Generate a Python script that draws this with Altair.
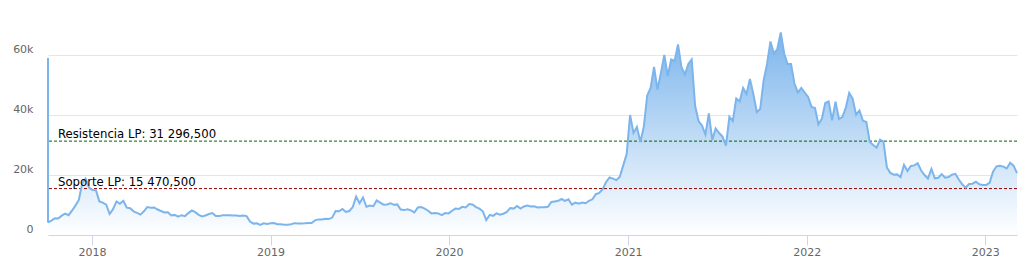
import altair as alt
import pandas as pd

# ---- data (weekly BTC price) ----
start_date = "2017-10-03"
prices_2017 = [4200, 4800, 5600, 5500, 6450, 7150, 6600, 8100, 9800, 11700, 17200, 18800, 15800]
prices_2018 = [15000, 14900, 11200, 10800, 10100, 7000, 8600, 11200, 10400, 11400, 9100, 8900, 7900,
               7400, 6800, 7900, 9300, 9100, 9200, 8500, 8000, 7500, 7600, 6500, 6700, 6100,
               6600, 6300, 7300, 8200, 7600, 6700, 6200, 6500, 7000, 7300, 6300, 6300, 6600,
               6600, 6600, 6500, 6500, 6300, 6500, 6300, 4500, 3800, 3900, 3400, 3900, 3700]
prices_2019 = [3900, 4000, 3600, 3600, 3450, 3400, 3600, 3950, 3850, 3850, 3900, 4000, 4000,
               4900, 5200, 5200, 5400, 5300, 5800, 8000, 7900, 8700, 7700, 8000, 9300, 12800,
               10600, 12500, 9400, 9800, 9600, 11500, 10800, 10100, 10200, 10600, 10100, 10200, 8500,
               8300, 8600, 8200, 7500, 9200, 9300, 8800, 8100, 7200, 7300, 7200, 6600, 7300, 7200]
prices_2020 = [8100, 8800, 8700, 9400, 9200, 10300, 10200, 9300, 8800, 7900, 5000, 6700, 6400,
               7200, 6800, 7100, 7700, 9000, 8800, 9700, 8800, 9500, 9800, 9500, 9600, 9200,
               9250, 9250, 9400, 11000, 11200, 11400, 12000, 11400, 11900, 10100, 10800, 10400, 10800,
               10600, 11400, 11900, 13600, 14000, 15300, 17700, 19200, 18800, 18300, 19400, 23200, 27000]
prices_2021 = [40000, 34000, 36000, 31000, 36000, 46500, 49000, 56000, 48500, 54000, 60000, 53000, 58500,
               58000, 63500, 56000, 53500, 57000, 58500, 43000, 38000, 36500, 33500, 40500, 31700, 35500,
               34000, 32800, 29800, 39400, 38000, 45500, 44500, 49000, 47000, 52000, 47000, 41000, 42000,
               51500, 57000, 64500, 60500, 62000, 67500, 60500, 57000, 57000, 50500, 47500, 49000, 47500]
prices_2022 = [46000, 42700, 42300, 36900, 38700, 44000, 44500, 38200, 44400, 38700, 39300, 42400, 47400,
               45500, 40100, 41500, 38100, 37700, 31000, 30000, 29100, 31800, 31100, 22500, 20700, 20100,
               20200, 19300, 23400, 21300, 23000, 23200, 23900, 21500, 20000, 18800, 22000, 18900, 19100,
               20300, 19100, 19300, 20100, 20400, 18500, 16900, 15800, 17000, 17100, 17800, 16900, 16700]
prices_2023 = [16700, 17400, 21100, 22900, 23100, 22800, 22200, 24100, 23100, 20600]
spike_value = 59000

level_names = ["Resistencia LP", "Soporte LP"]
level_values = [31296.5, 15470.5]
level_colors = ["#006400", "#8b0000"]

y_ticks = [0, 20000, 40000, 60000]
year_ticks = [2018, 2019, 2020, 2021, 2022, 2023]

# ---- tables ----
prices = prices_2017 + prices_2018 + prices_2019 + prices_2020 + prices_2021 + prices_2022 + prices_2023
dates = pd.date_range(start_date, periods=len(prices), freq="7D").strftime("%Y-%m-%d")
df = pd.DataFrame({"date": dates, "price": prices})


def fmt_es(v):
    s = f"{v:,.3f}"
    return s.replace(",", " ").replace(".", ",")


levels = pd.DataFrame({
    "name": level_names,
    "value": level_values,
    "label": [f"{n}: {fmt_es(v)}" for n, v in zip(level_names, level_values)],
    "date": [dates[0]] * len(level_names),
})
spike = pd.DataFrame({"date": [dates[0]], "low": [prices[0]], "high": [spike_value]})

FONT = "DejaVu Sans"
xscale = alt.Scale(type="utc", nice=False)
yscale = alt.Scale(domain=[0, 75000], nice=False)

xaxis = alt.Axis(
    values=[alt.DateTime(year=y, month=1, date=1, utc=True) for y in year_ticks],
    format="%Y", grid=False, domainColor="#ccd6eb", tickColor="#ccd6eb",
    tickSize=10, labelPadding=1, labelColor="#666666", labelFontSize=11,
    labelFont=FONT, labelFlush=False, title=None,
)
yaxis = alt.Axis(
    values=y_ticks,
    labelExpr="datum.value == 0 ? '0' : format(datum.value / 1000, 'd') + 'k'",
    grid=True, gridColor="#e6e6e6", domain=False, ticks=False, tickSize=0,
    labelPadding=15, labelColor="#666666", labelFontSize=11, labelFont=FONT,
    labelBaseline="middle", labelOffset=-6, title=None,
)

area = alt.Chart(df).mark_area(
    color=alt.Gradient(
        gradient="linear",
        stops=[alt.GradientStop(color="#7cb5ec", offset=0),
               alt.GradientStop(color="#ffffff", offset=1)],
        x1=0, x2=0, y1=0, y2=1,
    )
).encode(
    x=alt.X("date:T", scale=xscale, axis=xaxis),
    y=alt.Y("price:Q", scale=yscale, axis=yaxis),
)

rules = alt.Chart(levels).mark_rule(strokeDash=[3, 2], strokeWidth=1, opacity=1).encode(
    y=alt.Y("value:Q"),
    color=alt.Color("name:N", scale=alt.Scale(domain=level_names, range=level_colors), legend=None),
)

line = alt.Chart(df).mark_line(color="#7cb5ec", strokeWidth=2).encode(
    x="date:T", y="price:Q"
)

spike_rule = alt.Chart(spike).mark_rule(color="#7cb5ec", strokeWidth=2).encode(
    x="date:T", y="low:Q", y2="high:Q"
)

texts = alt.Chart(levels).mark_text(
    align="left", baseline="alphabetic", dx=10, dy=-3, fontSize=11.7, color="#000000", font=FONT
).encode(x="date:T", y="value:Q", text="label:N")

chart = alt.layer(area, rules, line, spike_rule, texts).properties(
    width=969, height=225,
    autosize=alt.AutoSizeParams(type="none"),
    padding={"left": 48, "top": 10, "right": 10, "bottom": 30},
    background="white",
).configure_view(stroke=None)

chart.save("out.html", embed_options={"renderer": "svg", "actions": False})
